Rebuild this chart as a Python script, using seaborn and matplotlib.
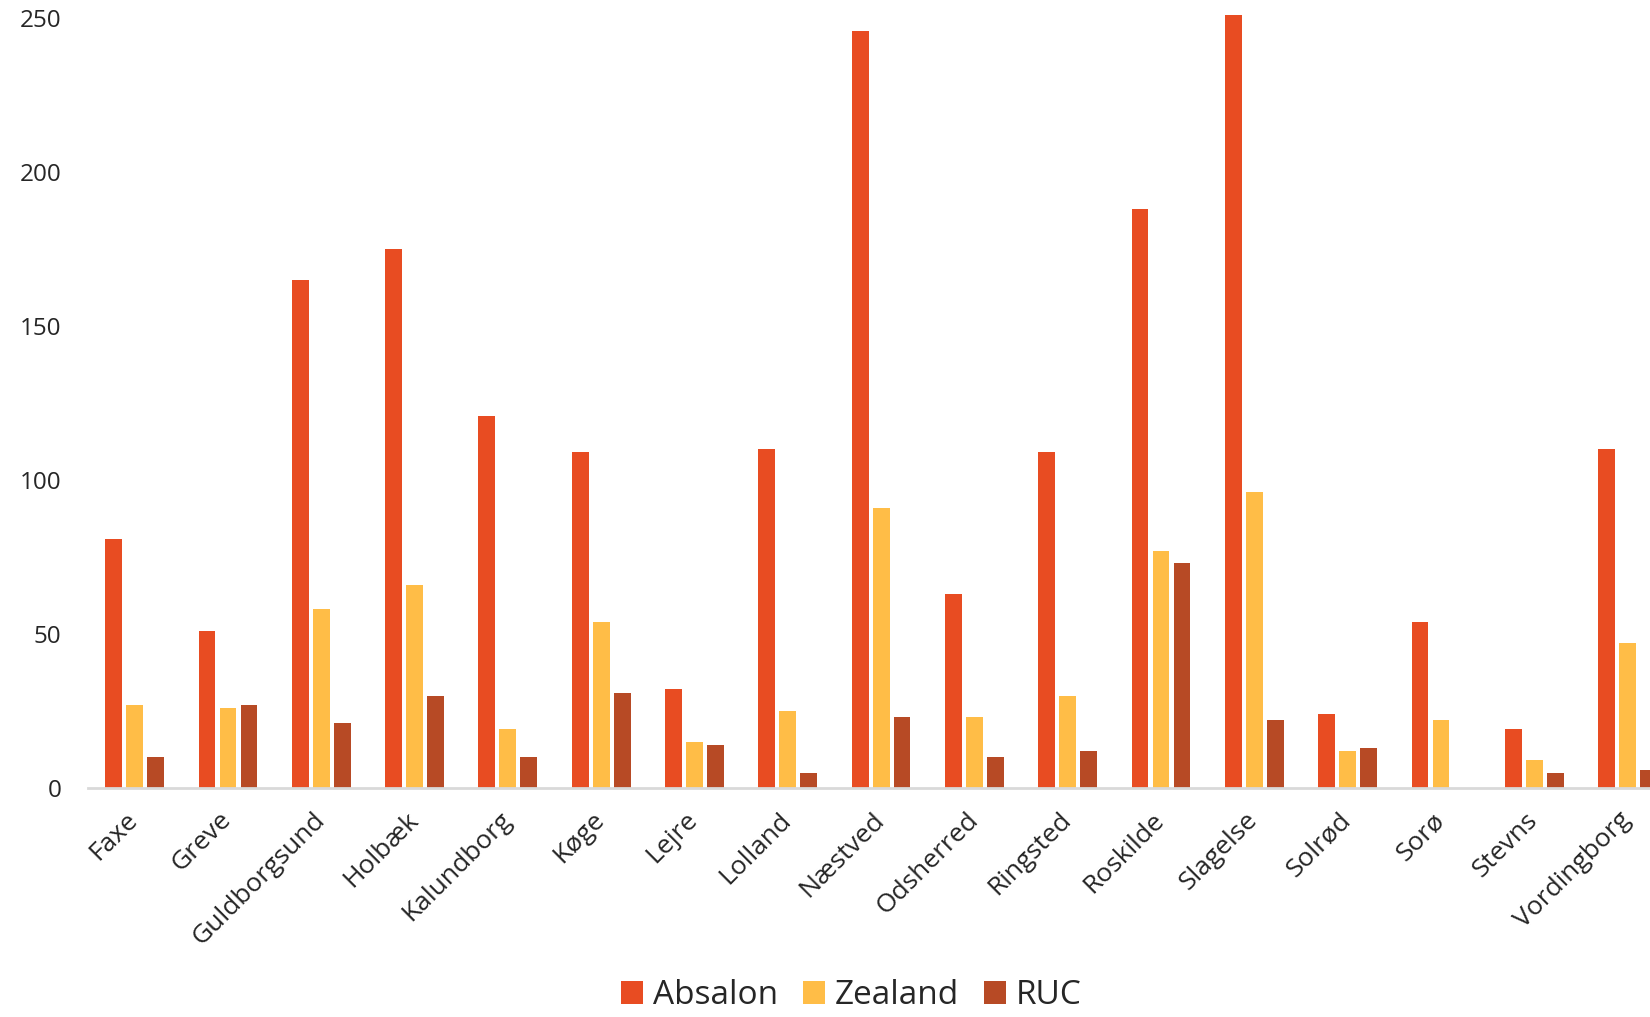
import matplotlib
matplotlib.use("Agg")
import matplotlib.pyplot as plt
import matplotlib.transforms as mtransforms
import numpy as np
import pandas as pd
import seaborn as sbn

municipalities = [
    "Faxe", "Greve", "Guldborgsund", "Holbæk", "Kalundborg", "Køge", "Lejre",
    "Lolland", "Næstved", "Odsherred", "Ringsted", "Roskilde", "Slagelse",
    "Solrød", "Sorø", "Stevns", "Vordingborg",
]
absalon = [81, 51, 165, 175, 121, 109, 32, 110, 246, 63, 109, 188, 251, 24, 54, 19, 110]
zealand = [27, 26, 58, 66, 19, 54, 15, 25, 91, 23, 30, 77, 96, 12, 22, 9, 47]
ruc = [10, 27, 21, 30, 10, 31, 14, 5, 23, 10, 12, 73, 22, 13, 0, 5, 6]
institutions = ["Absalon", "Zealand", "RUC"]
y_ticks = [0, 50, 100, 150, 200, 250]

colors = {"Absalon": "#E84C22", "Zealand": "#FFBD47", "RUC": "#B74A25"}

df = pd.DataFrame({
    "kommune": municipalities * 3,
    "antal": absalon + zealand + ruc,
    "institution": np.repeat(institutions, len(municipalities)),
})

sbn.set_style("white")
plt.rcParams["font.family"] = ["Open Sans", "DejaVu Sans"]

fig = plt.figure(figsize=(16.5, 10.17), dpi=100)
ax = fig.add_axes([0.0533, 0.2252, 0.9467, 0.7748])

sbn.barplot(
    data=df, x="kommune", y="antal", hue="institution", hue_order=institutions,
    palette=colors, width=0.675, gap=0.2, ax=ax, edgecolor="none", saturation=1,
)

ax.set_xlim(-0.5, 16.24)
ax.set_ylim(0, 256)
ax.set_yticks(y_ticks)
ax.set_xlabel("")
ax.set_ylabel("")
for side in ["top", "right", "left"]:
    ax.spines[side].set_visible(False)
ax.spines["bottom"].set_color("#D9D9D9")
ax.spines["bottom"].set_linewidth(2)
ax.tick_params(axis="y", length=0, pad=19, labelsize=17.5)
ax.tick_params(axis="x", length=0, pad=14, labelsize=19)

# nudge the rotated labels a little to the left, like the original
shift = mtransforms.ScaledTranslation(-9 / 100, 0, fig.dpi_scale_trans)
for lab in ax.get_xticklabels():
    lab.set_rotation(45)
    lab.set_ha("right")
    lab.set_rotation_mode("anchor")
    lab.set_transform(lab.get_transform() + shift)

handles, labels = ax.get_legend_handles_labels()
ax.get_legend().remove()
fig.legend(
    handles, labels, loc="center", bbox_to_anchor=(0.516, 0.021), ncol=3,
    frameon=False, fontsize=24, handlelength=0.65, handleheight=0.65,
    handletextpad=0.3, columnspacing=0.75, borderpad=0.1,
)

fig.savefig("out.png", dpi=100)
